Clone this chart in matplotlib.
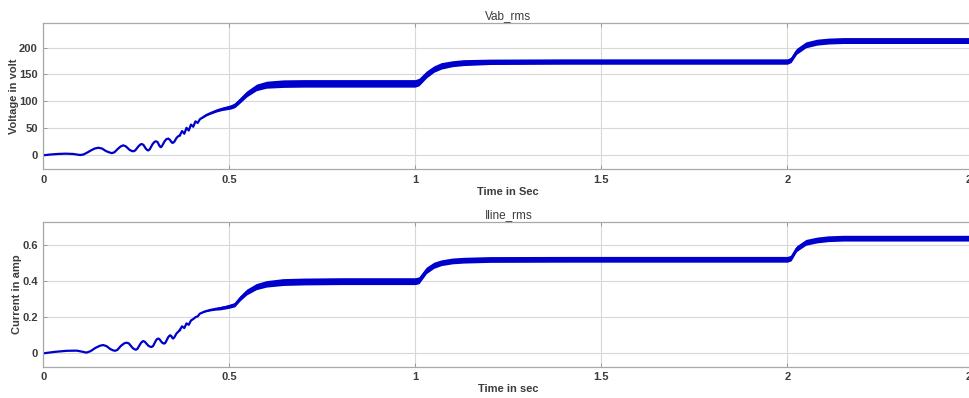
import matplotlib
matplotlib.use("Agg")
import matplotlib.pyplot as plt
import numpy as np

plt.rcParams['font.family'] = ['Liberation Sans', 'DejaVu Sans']

LINE_COLOR = '#0000cd'

# Vab_rms (volt), start-up part: a single thin trace
T_V_START = [0, 0.02, 0.04, 0.06, 0.08, 0.092, 0.099, 0.108, 0.118, 0.128, 0.138, 0.148,
             0.158, 0.168, 0.177, 0.184, 0.191, 0.199, 0.208, 0.215, 0.222, 0.232, 0.238,
             0.242, 0.247, 0.255, 0.26, 0.264, 0.269, 0.276, 0.279, 0.282, 0.286, 0.294,
             0.299, 0.303, 0.307, 0.312, 0.314, 0.316, 0.319, 0.326, 0.331, 0.336, 0.34,
             0.344, 0.346, 0.348, 0.352, 0.358, 0.362, 0.367]
V_START = [0, 1.5, 2.5, 3, 2.5, 1.2, 0.5, 1.5, 5, 9, 12.5, 14,
           12.5, 8, 5.5, 4, 5.5, 11, 16.5, 18.5, 16.5, 10, 8,
           7.4, 9, 16, 19.5, 21, 19.5, 12, 10, 9, 11, 21,
           25, 26, 24.5, 18, 16, 15, 17, 26, 30, 31, 29,
           25, 23.5, 23, 25, 32, 35, 37]

# Vab_rms, rippled part: time, centre of the band, half-width of the ripple band
T_V = [0.367, 0.373, 0.379, 0.385, 0.391, 0.397, 0.403, 0.409, 0.415, 0.421,
       0.43, 0.439, 0.452, 0.466, 0.48, 0.493, 0.505, 0.515, 0.529, 0.547, 0.573, 0.6, 0.645,
       0.7, 0.8, 0.9, 1.0,
       1.01, 1.03, 1.05, 1.07, 1.1, 1.13, 1.2,
       1.4, 1.6, 1.8, 2.0,
       2.01, 2.025, 2.05, 2.08, 2.11, 2.15, 2.3, 2.5]
V_MID = [37, 45, 40, 51, 46, 57, 53, 63, 60, 67,
         71, 75, 79, 83, 86, 88, 90, 93, 102, 114, 126, 131, 133,
         133.5, 133.5, 133.5, 133.5,
         136, 150, 160, 166, 170, 172, 173.5,
         174, 174, 174, 174,
         177, 193, 205, 210, 212, 213, 213, 213]
V_RIP = [0, 0, 0, 0, 0, 0, 0, 0, 0, 0,
         1, 1.5, 2, 2.5, 3, 3.5, 4, 4.5, 5, 5.5, 6, 6.5, 7,
         7, 7, 7, 7,
         7, 6.5, 6, 6, 5.5, 5.5, 5,
         5, 5, 5, 5,
         5, 5.5, 5.5, 5.5, 5.5, 5.5, 5.5, 5.5]

# Iline_rms (amp), start-up part
T_I_START = [0, 0.03, 0.063, 0.09, 0.105, 0.116, 0.127, 0.14, 0.152, 0.161, 0.17, 0.18,
             0.187, 0.193, 0.199, 0.209, 0.218, 0.224, 0.23, 0.24, 0.245, 0.249, 0.253,
             0.262, 0.266, 0.269, 0.273, 0.282, 0.287, 0.291, 0.295, 0.303, 0.306, 0.309,
             0.312, 0.319, 0.322, 0.325, 0.328, 0.336, 0.339, 0.341, 0.344, 0.347, 0.349,
             0.352, 0.358, 0.367]
I_START = [0, 0.008, 0.014, 0.015, 0.009, 0.004, 0.012, 0.03, 0.042, 0.046, 0.04, 0.024,
           0.017, 0.014, 0.019, 0.042, 0.056, 0.059, 0.055, 0.03, 0.023, 0.02, 0.025,
           0.056, 0.065, 0.068, 0.064, 0.043, 0.037, 0.035, 0.04, 0.072, 0.079, 0.082,
           0.079, 0.06, 0.056, 0.054, 0.058, 0.09, 0.097, 0.1, 0.096, 0.085, 0.082,
           0.088, 0.11, 0.129]

# Iline_rms, rippled part
T_I = [0.367, 0.373, 0.379, 0.385, 0.391, 0.397, 0.403, 0.409, 0.415, 0.421,
       0.434, 0.448, 0.462, 0.475, 0.49, 0.502, 0.515, 0.529, 0.547, 0.573, 0.6, 0.645,
       0.7, 0.8, 0.9, 1.0,
       1.01, 1.03, 1.05, 1.07, 1.1, 1.13, 1.2,
       1.4, 1.6, 1.8, 2.0,
       2.01, 2.025, 2.05, 2.08, 2.11, 2.15, 2.3, 2.5]
I_MID = [0.129, 0.15, 0.14, 0.166, 0.158, 0.182, 0.19, 0.2, 0.205, 0.22,
         0.232, 0.24, 0.246, 0.25, 0.256, 0.262, 0.27, 0.305, 0.34, 0.37, 0.385, 0.395,
         0.398, 0.4, 0.4, 0.4,
         0.405, 0.46, 0.488, 0.502, 0.512, 0.516, 0.52,
         0.521, 0.521, 0.521, 0.521,
         0.528, 0.58, 0.615, 0.628, 0.635, 0.638, 0.638, 0.638]
I_RIP = [0, 0, 0, 0, 0, 0, 0, 0, 0, 0,
         0.003, 0.005, 0.007, 0.009, 0.01, 0.011, 0.012, 0.014, 0.016, 0.017, 0.018, 0.019,
         0.019, 0.019, 0.019, 0.019,
         0.019, 0.018, 0.017, 0.016, 0.016, 0.016, 0.016,
         0.016, 0.016, 0.016, 0.016,
         0.016, 0.016, 0.016, 0.016, 0.016, 0.016, 0.016, 0.016]

X_TICKS = [0, 0.5, 1, 1.5, 2, 2.5]
X_TICKLABELS = ['0', '0.5', '1', '1.5', '2', '2.5']

PANELS = [
    dict(t0=T_V_START, y0=V_START, t=T_V, mid=V_MID, rip=V_RIP,
         title='Vab_rms', xlabel='Time in Sec', ylabel='Voltage in volt',
         ylim=(-26, 245), yticks=[0, 50, 100, 150, 200],
         yticklabels=['0', '50', '100', '150', '200']),
    dict(t0=T_I_START, y0=I_START, t=T_I, mid=I_MID, rip=I_RIP,
         title='Iline_rms', xlabel='Time in sec', ylabel='Current in amp',
         ylim=(-0.074, 0.726), yticks=[0, 0.2, 0.4, 0.6],
         yticklabels=['0', '0.2', '0.4', '0.6']),
]

W, H = 969, 398
fig = plt.figure(figsize=(W / 100, H / 100), dpi=100)
# axes rectangles in pixels: left, top, right, bottom
rects = [(43.3, 23.3, 973.3, 169.3), (43.3, 222.3, 973.3, 366.7)]

for p, (l, t, r, b) in zip(PANELS, rects):
    ax = fig.add_axes([l / W, 1 - b / H, (r - l) / W, (b - t) / H])
    tt = np.array(p['t'])
    mid = np.array(p['mid'])
    rip = np.array(p['rip'])
    ax.plot(p['t0'], p['y0'], color=LINE_COLOR, lw=1.6, solid_joinstyle='round')
    ax.fill_between(tt, mid - rip, mid + rip, color=LINE_COLOR, lw=0)
    ax.plot(tt, mid, color=LINE_COLOR, lw=1.6, solid_joinstyle='round')
    ax.set_xlim(0, 2.5)
    ax.set_ylim(*p['ylim'])
    ax.set_xticks(X_TICKS)
    ax.set_xticklabels(X_TICKLABELS)
    ax.set_yticks(p['yticks'])
    ax.set_yticklabels(p['yticklabels'])
    ax.grid(True, color='#d8d8d8', lw=0.8)
    ax.set_axisbelow(True)
    for s in ax.spines.values():
        s.set_color('#a8a8a8')
        s.set_linewidth(0.9)
    ax.tick_params(direction='in', length=3, width=0.6, color='#909090',
                   labelsize=8, labelcolor='#3c3c3c', pad=4, top=True, right=True)
    for lab in ax.get_xticklabels() + ax.get_yticklabels():
        lab.set_fontweight('bold')
    ax.set_title(p['title'], fontsize=8.5, color='#3c3c3c', pad=3)
    ax.set_xlabel(p['xlabel'], fontsize=8, fontweight='bold', color='#3c3c3c', labelpad=1.5)
    ax.set_ylabel(p['ylabel'], fontsize=8, fontweight='bold', color='#3c3c3c', labelpad=0)

fig.savefig('out.png', dpi=100)
